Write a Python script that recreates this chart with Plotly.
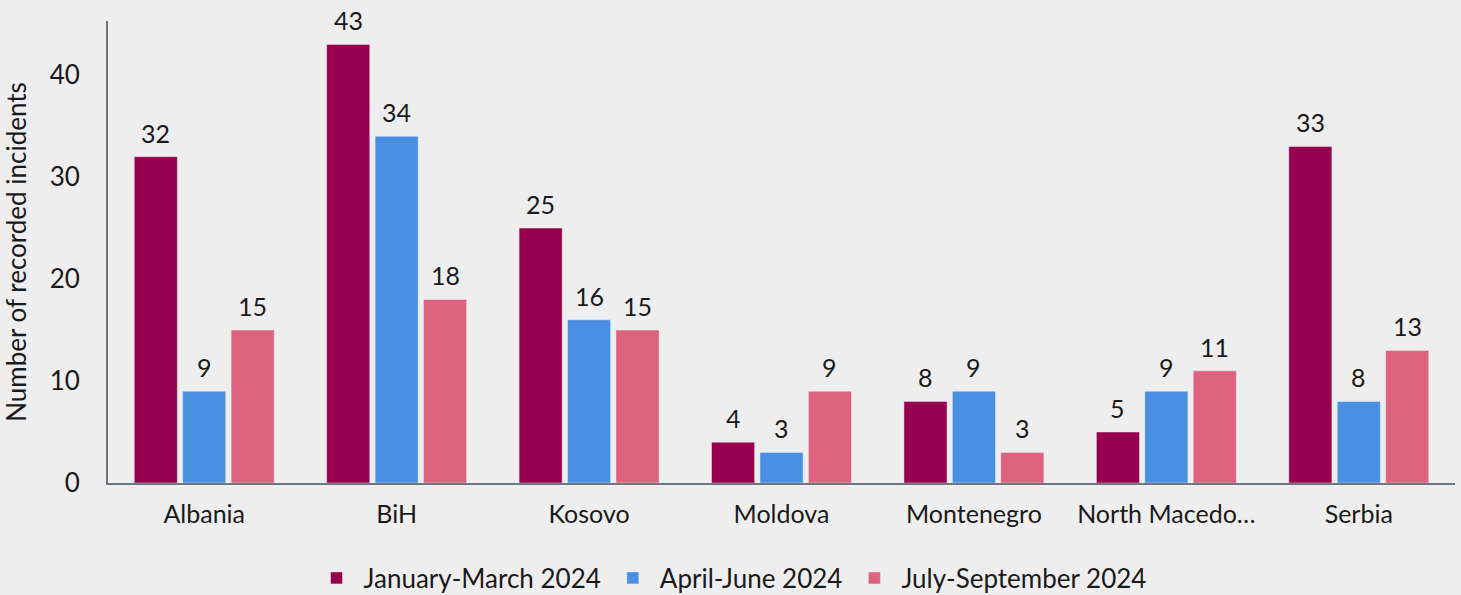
import plotly.graph_objects as go

countries = ["Albania", "BiH", "Kosovo", "Moldova", "Montenegro", "North Macedonia", "Serbia"]
tick_labels = ["Albania", "BiH", "Kosovo", "Moldova", "Montenegro", "North Macedo…", "Serbia"]
series_names = ["January-March 2024", "April-June 2024", "July-September 2024"]
jan_mar = [32, 43, 25, 4, 8, 5, 33]
apr_jun = [9, 34, 16, 3, 9, 9, 8]
jul_sep = [15, 18, 15, 9, 3, 11, 13]
colors = ["#97004e", "#4a90e2", "#dd627c"]

W, H = 1461, 595
ML, MR, MT, MB = 108, 6, 21, 112
BARGAP, GROUPGAP = 0.245, 0.11
FS = 26

fig = go.Figure()
all_series = [jan_mar, apr_jun, jul_sep]
for name, vals, col in zip(series_names, all_series, colors):
    fig.add_trace(go.Bar(
        x=countries, y=vals, name=name, marker_color=col,
    ))

# value labels above bars
cat_px = (W - ML - MR) / len(countries)
slot_px = cat_px * (1 - BARGAP) / len(all_series)
for i, vals in enumerate(all_series):
    shift = (i - (len(all_series) - 1) / 2) * slot_px
    for c, v in zip(countries, vals):
        fig.add_annotation(x=c, y=v, xref="x", yref="y", text=str(v), showarrow=False,
                           xshift=shift, yshift=7, yanchor="bottom",
                           font=dict(size=FS - 1, color="#1a1a1a"))

fig.update_layout(
    width=W, height=H,
    paper_bgcolor="#eeeeee", plot_bgcolor="#eeeeee",
    font=dict(family="Lato", size=FS, color="#1a1a1a"),
    margin=dict(l=ML, r=MR, t=MT, b=MB, autoexpand=False),
    barmode="group", bargap=BARGAP, bargroupgap=GROUPGAP,
    showlegend=True,
    legend=dict(orientation="h", xref="container", x=0.5, xanchor="center",
                yref="container", y=1 - 578 / H, yanchor="middle",
                font=dict(size=FS), traceorder="normal", itemwidth=44),
)
fig.update_xaxes(
    tickvals=countries, ticktext=tick_labels, showline=True, linecolor="#6e7780",
    linewidth=2, ticks="", tickfont=dict(size=FS - 1), showgrid=False,
    ticklabelstandoff=8,
)
fig.update_yaxes(
    range=[0, 45.3], tickvals=[0, 10, 20, 30, 40], showgrid=False, zeroline=False,
    showline=True, linecolor="#6e7780", linewidth=2, ticks="", ticklabelstandoff=21,
    tickfont=dict(size=FS),
    title=dict(text="Number of recorded incidents", font=dict(size=FS), standoff=18),
)

fig.write_html("out.html", config={"displayModeBar": False},
               post_script="document.body.style.margin='0';")
